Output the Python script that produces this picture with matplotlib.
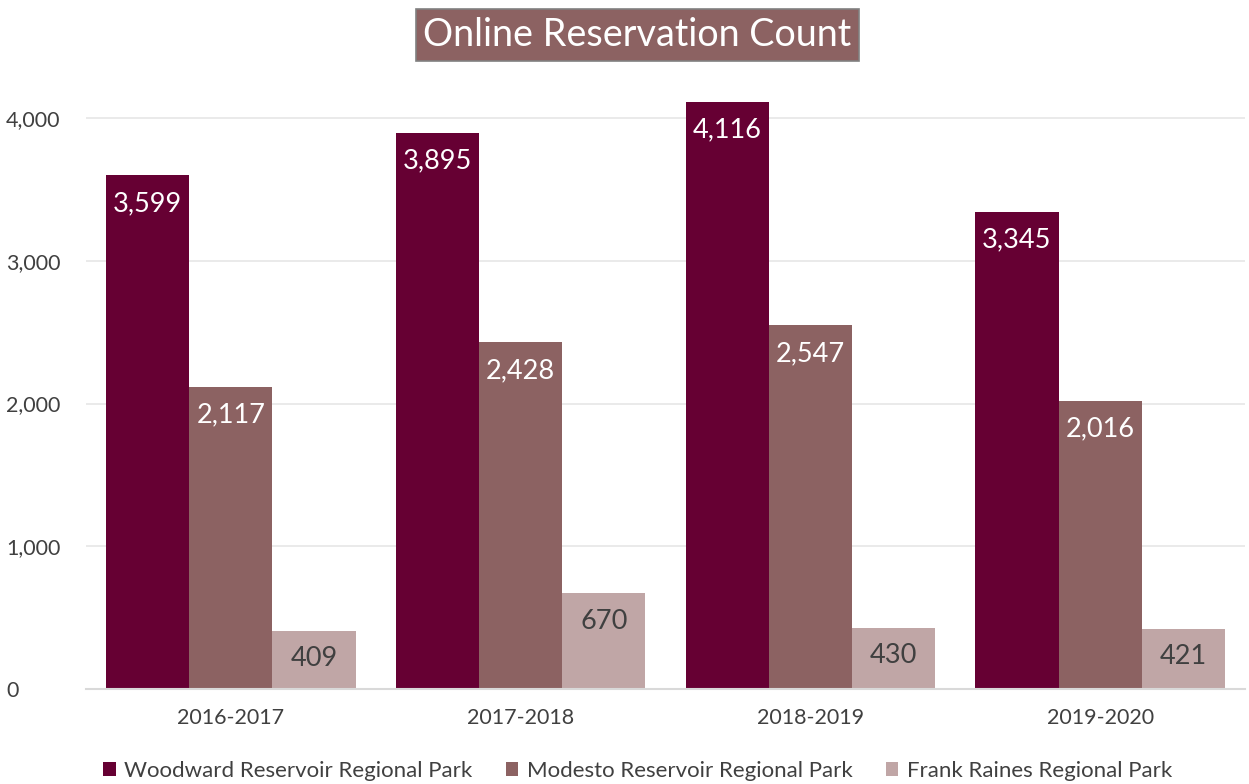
import matplotlib
matplotlib.use("Agg")
import matplotlib.pyplot as plt
from matplotlib.patches import Patch
import matplotlib.transforms as mtransforms
import numpy as np

plt.rcParams['font.family'] = ['Lato', 'DejaVu Sans']

seasons = ["2016-2017", "2017-2018", "2018-2019", "2019-2020"]
parks = ["Woodward Reservoir Regional Park", "Modesto Reservoir Regional Park",
         "Frank Raines Regional Park"]
woodward = [3599, 3895, 4116, 3345]
modesto = [2117, 2428, 2547, 2016]
frank_raines = [409, 670, 430, 421]
y_ticks = [0, 1000, 2000, 3000, 4000]

colors = ["#660033", "#8C6262", "#C0A6A6"]
label_colors = ["white", "white", "#404040"]

W, H = 1249, 784
fig = plt.figure(figsize=(W / 100, H / 100), dpi=100)
ax = fig.add_axes([86 / W, (H - 689) / H, (1245 - 86) / W, (689 - 61) / H])

x = np.arange(len(seasons))
bw = 0.287
series = [woodward, modesto, frank_raines]
for i, (vals, c, lc) in enumerate(zip(series, colors, label_colors)):
    pos = x + (i - 1) * bw
    ax.bar(pos, vals, width=bw, color=c, zorder=3, label=parks[i])
    for xp, v in zip(pos, vals):
        ax.annotate(f"{v:,}", (xp, v), xytext=(0, -28), textcoords="offset pixels",
                    ha="center", va="center", color=lc, fontsize=19.5, zorder=4)

ax.set_xlim(-0.5, len(seasons) - 0.5)
ax.set_ylim(0, 4400)
ax.set_yticks(y_ticks)
ax.set_yticklabels([f"{t:,}" for t in y_ticks])
ax.set_xticks(x)
ax.set_xticklabels(seasons)
ax.tick_params(axis="both", length=0, colors="#404040", labelsize=15.5)
ax.tick_params(axis="x", pad=14)
ax.yaxis.set_tick_params(pad=0)
shift = mtransforms.ScaledTranslation(-80 / 100, 0, fig.dpi_scale_trans)
for lbl in ax.get_yticklabels():
    lbl.set_horizontalalignment("left")
    lbl.set_transform(lbl.get_transform() + shift)

ax.grid(axis="y", color="#E6E6E6", linewidth=1.2, zorder=0)
for s in ["top", "right", "left"]:
    ax.spines[s].set_visible(False)
ax.spines["bottom"].set_color("#D9D9D9")
ax.spines["bottom"].set_linewidth(1.5)
ax.spines["bottom"].set_zorder(5)

fig.text(637.5 / W, 1 - 35 / H, "Online Reservation Count", ha="center", va="center",
         fontsize=27.2, color="white",
         bbox=dict(boxstyle="square,pad=0.2", facecolor="#8C6262", edgecolor="#808080",
                   linewidth=1.2))

handles = [Patch(facecolor=c, label=p) for c, p in zip(colors, parks)]
fig.legend(handles=handles, loc="center", bbox_to_anchor=(638 / W, 1 - 771 / H),
           ncol=3, frameon=False, fontsize=16, handlelength=0.55, handleheight=0.55,
           handletextpad=0.4, columnspacing=1.5, labelcolor="#404040")

fig.savefig("out.png", dpi=100)
